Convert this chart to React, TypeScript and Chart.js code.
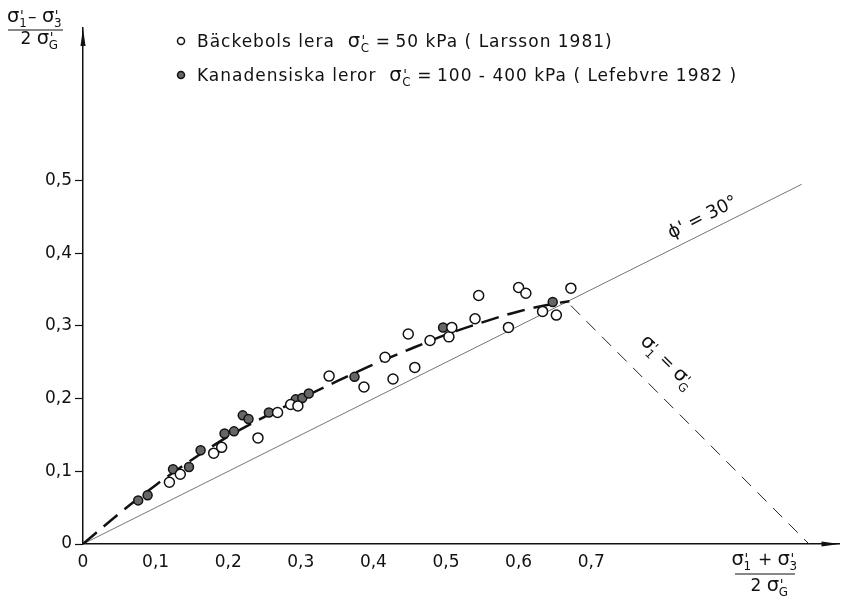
import React, { useEffect, useRef } from "react";
import { Chart, registerables } from "chart.js";
Chart.register(...registerables);

// ---- data ----
const xTickValues = [0, 0.1, 0.2, 0.3, 0.4, 0.5, 0.6, 0.7];
const yTickValues = [0, 0.1, 0.2, 0.3, 0.4, 0.5];

// Bäckebols lera (open circles)
const backebolsP = [0.119, 0.134, 0.180, 0.191, 0.241, 0.268, 0.286, 0.296, 0.339, 0.387, 0.416, 0.427, 0.448, 0.457, 0.478, 0.504, 0.508, 0.540, 0.545, 0.586, 0.600, 0.610, 0.633, 0.652, 0.672];
const backebolsQ = [0.085, 0.096, 0.125, 0.133, 0.146, 0.181, 0.192, 0.190, 0.231, 0.216, 0.257, 0.227, 0.289, 0.243, 0.280, 0.285, 0.298, 0.310, 0.342, 0.298, 0.353, 0.345, 0.320, 0.315, 0.352];

// Kanadensiska leror (filled circles)
const kanadaP = [0.076, 0.089, 0.124, 0.146, 0.162, 0.195, 0.208, 0.220, 0.228, 0.256, 0.293, 0.302, 0.311, 0.374, 0.496, 0.647];
const kanadaQ = [0.060, 0.067, 0.103, 0.106, 0.129, 0.152, 0.155, 0.177, 0.172, 0.181, 0.199, 0.201, 0.207, 0.230, 0.298, 0.333];

// fitted dashed curve
const curveP = [0, 0.05, 0.1, 0.15, 0.2, 0.25, 0.3, 0.35, 0.4, 0.45, 0.5, 0.55, 0.6, 0.65, 0.67];
const curveQ = [0, 0.042, 0.081, 0.116, 0.148, 0.175, 0.2, 0.224, 0.247, 0.268, 0.288, 0.305, 0.320, 0.331, 0.334];

// phi' = 30 deg line
const phiLineP = [0, 0.99];
const phiLineQ = [0, 0.495];

// sigma1' = sigmaG' line
const failP = [0.672, 1.0];
const failQ = [0.328, 0];

const FONT = "'DejaVu Sans', sans-serif";

type Part = string | { sub: string };

function sigmaMetrics(ctx: CanvasRenderingContext2D, sub: string, size: number) {
  ctx.font = `${size * 1.15}px ${FONT}`;
  const ws = ctx.measureText("σ").width;
  ctx.font = `${size * 0.7}px ${FONT}`;
  const wsub = ctx.measureText(sub).width;
  return { ws, wsub };
}

function partWidth(ctx: CanvasRenderingContext2D, p: Part, size: number) {
  if (typeof p === "string") {
    ctx.font = `${size}px ${FONT}`;
    return ctx.measureText(p).width;
  }
  const m = sigmaMetrics(ctx, p.sub, size);
  return m.ws + m.wsub + 1;
}

function drawRich(ctx: CanvasRenderingContext2D, parts: Part[], x: number, y: number, size: number, align: "left" | "center" = "left") {
  let total = 0;
  for (const p of parts) total += partWidth(ctx, p, size);
  let cx = align === "center" ? x - total / 2 : x;
  ctx.textAlign = "left";
  ctx.textBaseline = "alphabetic";
  for (const p of parts) {
    if (typeof p === "string") {
      ctx.font = `${size}px ${FONT}`;
      ctx.fillText(p, cx, y);
      cx += ctx.measureText(p).width;
    } else {
      const m = sigmaMetrics(ctx, p.sub, size);
      ctx.font = `${size * 1.15}px ${FONT}`;
      ctx.fillText("σ", cx, y);
      ctx.font = `${size * 0.8}px ${FONT}`;
      ctx.fillText("'", cx + m.ws + 0.5, y - size * 0.12);
      ctx.font = `${size * 0.7}px ${FONT}`;
      ctx.fillText(p.sub, cx + m.ws - size * 0.02, y + size * 0.32);
      cx += m.ws + m.wsub + 1;
    }
  }
  return total;
}

const fmt = (v: number) => (v === 0 ? "0" : v.toFixed(1).replace(".", ","));

const decorPlugin = {
  id: "decor",
  afterDraw(chart: any) {
    const ctx: CanvasRenderingContext2D = chart.ctx;
    const xs = chart.scales.x;
    const ys = chart.scales.y;
    const ca = chart.chartArea;
    ctx.save();
    ctx.fillStyle = "#111";
    ctx.strokeStyle = "#111";

    // arrows
    ctx.beginPath();
    ctx.moveTo(ca.left, ca.top);
    ctx.lineTo(ca.left - 2.5, ca.top + 18);
    ctx.lineTo(ca.left + 2.5, ca.top + 18);
    ctx.closePath();
    ctx.fill();
    ctx.beginPath();
    ctx.moveTo(ca.right, ca.bottom);
    ctx.lineTo(ca.right - 18, ca.bottom - 2.5);
    ctx.lineTo(ca.right - 18, ca.bottom + 2.5);
    ctx.closePath();
    ctx.fill();

    // legend
    const size = 17;
    ctx.lineWidth = 1.5;
    ctx.beginPath();
    ctx.arc(181, 41, 3.5, 0, Math.PI * 2);
    ctx.fillStyle = "#fff";
    ctx.fill();
    ctx.stroke();
    ctx.beginPath();
    ctx.arc(181, 75, 3.5, 0, Math.PI * 2);
    ctx.fillStyle = "#666";
    ctx.fill();
    ctx.stroke();
    ctx.fillStyle = "#111";
    (ctx as any).letterSpacing = "1px";
    drawRich(ctx, ["Bäckebols lera  ", { sub: "C" }, "\u2009=\u200950 kPa ( Larsson 1981)"], 197, 47, size);
    drawRich(ctx, ["Kanadensiska leror  ", { sub: "C" }, "\u2009=\u2009100 - 400 kPa ( Lefebvre 1982 )"], 197, 81, size);
    (ctx as any).letterSpacing = "0px";

    // y title
    drawRich(ctx, [{ sub: "1" }, "– ", { sub: "3" }], 35, 22, size, "center");
    ctx.lineWidth = 1;
    ctx.beginPath();
    ctx.moveTo(8, 30);
    ctx.lineTo(63, 30);
    ctx.stroke();
    drawRich(ctx, ["2 ", { sub: "G" }], 40, 44, size, "center");

    // x title
    drawRich(ctx, [{ sub: "1" }, " + ", { sub: "3" }], 765, 565, size, "center");
    ctx.beginPath();
    ctx.moveTo(735, 574);
    ctx.lineTo(795, 574);
    ctx.stroke();
    drawRich(ctx, ["2 ", { sub: "G" }], 770, 591, size, "center");

    // phi label
    const a1 = Math.atan2(ys.getPixelForValue(0) - ys.getPixelForValue(0.5), xs.getPixelForValue(1) - xs.getPixelForValue(0));
    ctx.save();
    ctx.translate(705, 222);
    ctx.rotate(-a1);
    ctx.font = `${size + 1}px ${FONT}`;
    ctx.textAlign = "center";
    ctx.fillText("ϕ' = 30°", 0, 0);
    ctx.restore();

    // sigma1 = sigmaG label
    const a2 = Math.atan2(ys.getPixelForValue(0) - ys.getPixelForValue(1), xs.getPixelForValue(1) - xs.getPixelForValue(0));
    ctx.save();
    ctx.translate(668, 362);
    ctx.rotate(a2);
    drawRich(ctx, [{ sub: "1" }, " = ", { sub: "G" }], 0, 6, size, "center");
    ctx.restore();

    ctx.restore();
  },
};

export default function App() {
  const ref = useRef<HTMLCanvasElement | null>(null);
  useEffect(() => {
    if (!ref.current) return;
    const toXY = (ps: number[], qs: number[]) => ps.map((p, i) => ({ x: p, y: qs[i] }));
    const chart = new Chart(ref.current, {
      type: "scatter",
      data: {
        datasets: [
          {
            label: "Bäckebols lera",
            data: toXY(backebolsP, backebolsQ),
            pointRadius: 5,
            pointBorderWidth: 1.5,
            pointBackgroundColor: "#fff",
            pointBorderColor: "#111",
            order: 0,
          } as any,
          {
            label: "Kanadensiska leror",
            data: toXY(kanadaP, kanadaQ),
            pointRadius: 4.5,
            pointBorderWidth: 1.5,
            pointBackgroundColor: "#666",
            pointBorderColor: "#111",
            order: 0,
          },
          {
            label: "curve",
            type: "line",
            data: toXY(curveP, curveQ),
            showLine: true,
            pointRadius: 0,
            borderColor: "#111",
            borderWidth: 2.5,
            borderDash: [18, 9],
            cubicInterpolationMode: "monotone",
            fill: false,
            order: 1,
          },
          {
            label: "phi",
            type: "line",
            data: toXY(phiLineP, phiLineQ),
            showLine: true,
            pointRadius: 0,
            borderColor: "#666",
            borderWidth: 0.9,
            fill: false,
            order: 2,
          },
          {
            label: "fail",
            type: "line",
            data: toXY(failP, failQ),
            showLine: true,
            pointRadius: 0,
            borderColor: "#222",
            borderWidth: 1,
            borderDash: [13, 9],
            fill: false,
            order: 2,
          },
        ] as any,
      },
      options: {
        animation: false,
        responsive: false,
        layout: { padding: { top: 28, right: 2, left: 0, bottom: 0 } },
        plugins: { legend: { display: false }, tooltip: { enabled: false } },
        scales: {
          x: {
            type: "linear",
            min: 0,
            max: 1.042,
            afterBuildTicks: (s: any) => {
              s.ticks = xTickValues.map((v) => ({ value: v }));
            },
            afterFit: (s: any) => {
              s.height = 53;
            },
            grid: { display: true, drawOnChartArea: false, drawTicks: false },
            border: { display: true, color: "#111", width: 1.5 },
            ticks: {
              padding: 8,
              color: "#111",
              font: { family: FONT, size: 17 },
              callback: (v: any) => fmt(Number(v)),
              maxRotation: 0,
            },
          },
          y: {
            type: "linear",
            min: 0,
            max: 0.71,
            afterBuildTicks: (s: any) => {
              s.ticks = yTickValues.map((v) => ({ value: v }));
            },
            afterFit: (s: any) => {
              s.width = 83;
            },
            grid: { display: true, drawOnChartArea: false, drawTicks: true, tickLength: 8, color: "#111", tickWidth: 1.2 },
            border: { display: true, color: "#111", width: 1.5 },
            ticks: {
              padding: 3,
              color: "#111",
              font: { family: FONT, size: 17 },
              callback: (v: any) => fmt(Number(v)),
            },
          },
        },
      },
      plugins: [decorPlugin],
    });
    return () => chart.destroy();
  }, []);
  return (
    <canvas
      ref={ref}
      width={846}
      height={597}
      style={{ position: "absolute", left: 0, top: 0, display: "block", background: "#fff" }}
    />
  );
}
